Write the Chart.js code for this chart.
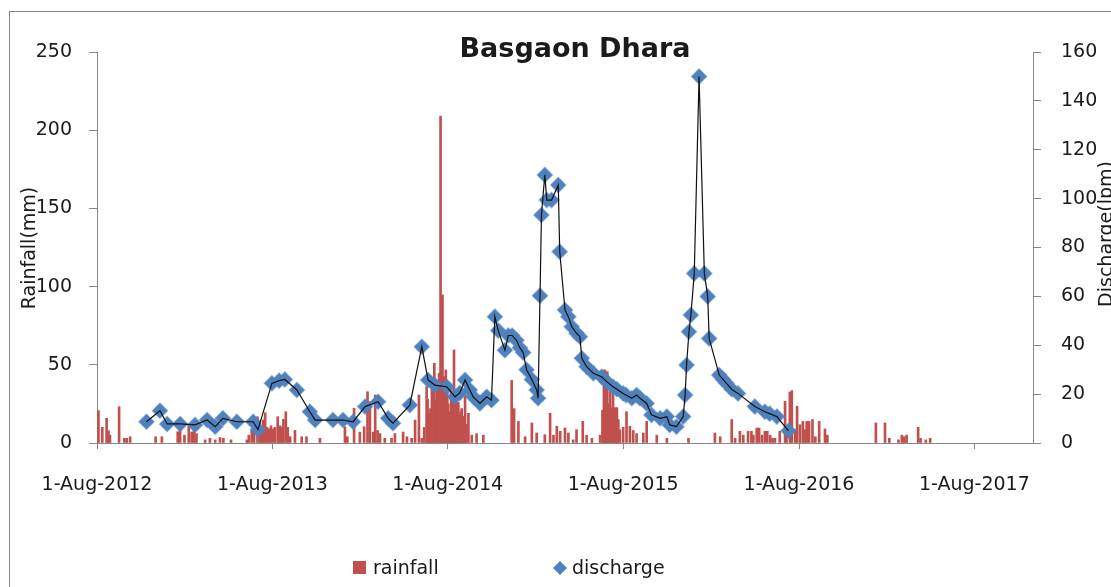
<!DOCTYPE html>
<html>
<head>
<meta charset="utf-8">
<script src="https://cdn.jsdelivr.net/npm/chart.js@4.4.1/dist/chart.umd.min.js"></script>
<style>
  html, body { margin: 0; padding: 0; background: #fff; }
  #wrap { width: 1111px; height: 587px; position: relative; }
</style>
</head>
<body>
<div id="wrap"><canvas id="chartBasgaon" width="1111" height="587"></canvas></div>
<script>
// days counted from 1-Aug-2012
const xTickDays = [0, 365, 730, 1095, 1461, 1826];
const xTickLabels = ['1-Aug-2012', '1-Aug-2013', '1-Aug-2014', '1-Aug-2015', '1-Aug-2016', '1-Aug-2017'];

const rainDay = [3, 11, 20, 24, 27, 46, 57, 62, 69, 122, 135, 168, 173, 182, 191, 197, 202, 207, 225, 235,
  246, 256, 263, 279, 312, 316, 322, 327, 334, 339, 343, 346, 350, 354, 358, 362, 366, 370, 376, 379,
  381, 385, 388, 393, 397, 402, 412, 426, 436, 464, 516, 521, 535, 547, 556, 563, 568, 575, 579, 584,
  589, 599, 613, 620, 637, 645, 655, 662, 670, 676, 681, 686, 688, 691, 694, 697, 699, 702, 705, 707,
  710, 712, 715, 717, 719, 720, 722, 724, 726, 729, 731, 733, 735, 737, 740, 741, 743, 745, 747, 749,
  752, 754, 757, 759, 761, 764, 766, 769, 773, 780, 790, 804, 863, 868, 877, 891, 905, 915, 932, 943,
  950, 957, 964, 974, 981, 991, 998, 1011, 1019, 1030, 1047, 1052, 1055, 1057, 1059, 1062, 1064, 1068, 1070, 1072,
  1074, 1078, 1080, 1082, 1085, 1088, 1095, 1102, 1109, 1116, 1123, 1137, 1144, 1165, 1186, 1231, 1286, 1297, 1321, 1328,
  1338, 1345, 1355, 1362, 1366, 1373, 1378, 1384, 1390, 1395, 1401, 1406, 1411, 1421, 1432, 1435, 1442, 1446, 1453, 1457,
  1463, 1469, 1473, 1477, 1482, 1489, 1495, 1503, 1515, 1520, 1621, 1640, 1649, 1668, 1675, 1680, 1685, 1709, 1714, 1725, 1734];
const rainMm = [20.7, 10, 15.8, 7.9, 5, 23.2, 3, 3, 4, 4, 4, 7.2, 11.5, 5, 10.9, 7, 8.3, 6, 2, 3,
  2, 3.5, 3, 2, 2, 5, 8, 11.5, 16.8, 13.1, 8, 14.7, 19.4, 10, 9, 11, 9, 10, 16.8, 9,
  11, 10, 15.2, 20, 10, 4, 8, 4, 4, 3, 10.4, 4, 22.2, 7, 10.4, 32.8, 26.4, 7, 30.7, 8,
  6, 3, 3, 6, 7, 4, 3, 14.7, 30.7, 3, 10, 36, 28, 19, 22, 36, 25, 51, 27.5, 35,
  29.6, 44.6, 209, 40, 94.7, 35, 42.4, 30, 46.7, 32, 25, 16, 20, 35, 24, 28, 59.5, 22, 30.7, 25,
  26, 18, 20, 22, 17, 15, 30.7, 12, 19, 5, 6, 5, 40, 22, 13.8, 4, 12.8, 6.4, 5.3, 19,
  5, 10.7, 7.5, 9.6, 6.4, 2, 8.5, 13.8, 5, 3, 5, 21, 46.7, 46.7, 30, 45.6, 25, 33, 15, 22.6,
  37, 22.6, 12, 22.6, 15, 8.5, 10, 20, 10.7, 8, 6, 6.4, 13.8, 5, 3, 3, 6.4, 4, 15, 3,
  7.5, 5, 7.5, 7.5, 5, 9.6, 9.6, 5, 7.5, 7.5, 5, 3, 3, 7.5, 26.6, 6.4, 32.6, 33.5, 8.5, 23.5,
  11.7, 13.8, 8.5, 13.8, 13.8, 15, 4, 13.8, 9, 5, 12.8, 12.8, 3, 2, 5, 4, 5, 10, 3, 2, 3];

const dischargeDay = [103, 131, 146, 173, 204, 229, 246, 262, 291, 325, 335, 364, 379, 391, 416, 443, 454, 491, 512, 533,
  558, 585, 606, 616, 651, 676, 689, 703, 728, 745, 755, 766, 776, 783, 797, 811, 821, 828, 835, 849,
  856, 864, 873, 880, 887, 894, 905, 915, 918, 922, 925, 932, 936, 946, 960, 963, 974, 981, 988, 998,
  1005, 1009, 1019, 1033, 1050, 1061, 1074, 1082, 1095, 1101, 1113, 1123, 1130, 1144, 1154, 1172, 1186, 1192, 1206, 1220,
  1224, 1227, 1232, 1236, 1243, 1253, 1264, 1271, 1274, 1295, 1303, 1310, 1321, 1334, 1369, 1390, 1400, 1415, 1439];
const dischargeLpm = [8.7, 13.2, 7.8, 7.8, 7.4, 9.4, 6.7, 10.1, 8.7, 8.7, 5.5, 24.4, 25.5, 26, 21.7, 12.8, 9.4, 9.4, 9.4, 8.7,
  14.9, 16.9, 10.1, 8.1, 15.5, 39.4, 25.8, 23.7, 23, 18.9, 20.5, 25.8, 21.7, 18.9, 16.2, 18.9, 17.5, 51.7, 46, 38,
  44, 44, 42, 39, 37, 30, 26, 21.7, 18.3, 60.3, 93.3, 109.7, 99.4, 99.4, 105.6, 78.3, 54.4, 51.7, 47.6, 44.9,
  43.5, 34.7, 31.2, 28.5, 27.1, 25.1, 23, 22, 20.3, 19.6, 18.3, 19.6, 18.3, 16.2, 11.5, 10.1, 10.8, 7.4, 6.7, 10.8,
  19.6, 31.9, 45.5, 52.4, 69.4, 150, 69.4, 60, 42.8, 27.8, 26, 24.4, 22, 20.3, 14.9, 12.8, 12, 10.8, 5];

const RAIN_RED = '#C0504D';
const DISCHARGE_BLUE = '#4F81BD';
const AXIS_GREY = '#868686';
const TXT = '#1a1a1a';
const FONT = 'DejaVu Sans';

const rainPoints = rainDay.map((d, i) => ({ x: d, y: rainMm[i] }));
const dischargePoints = dischargeDay.map((d, i) => ({ x: d, y: dischargeLpm[i] }));

// title, axis titles, legend and the outer frame are drawn by hand (Excel look)
const decorations = {
  id: 'decorations',
  afterDraw(chart) {
    const ctx = chart.ctx;
    ctx.save();
    ctx.strokeStyle = AXIS_GREY;
    ctx.lineWidth = 1;
    ctx.strokeRect(9.5, 11.5, 1300, 700);

    ctx.fillStyle = TXT;
    ctx.font = 'bold 27px "' + FONT + '"';
    ctx.textAlign = 'center';
    ctx.textBaseline = 'alphabetic';
    ctx.fillText('Basgaon Dhara', 575, 57);

    ctx.font = '19px "' + FONT + '"';
    ctx.textBaseline = 'middle';
    ctx.save();
    ctx.translate(30, 248);
    ctx.rotate(-Math.PI / 2);
    ctx.fillText('Rainfall(mm)', 0, 0);
    ctx.restore();

    ctx.save();
    ctx.translate(1107, 234);
    ctx.rotate(-Math.PI / 2);
    ctx.fillText('Discharge(lpm)', 0, 0);
    ctx.restore();

    // legend
    ctx.fillStyle = RAIN_RED;
    ctx.fillRect(353, 561, 13, 13);
    ctx.fillStyle = DISCHARGE_BLUE;
    ctx.beginPath();
    ctx.moveTo(560, 561);
    ctx.lineTo(567, 568);
    ctx.lineTo(560, 575);
    ctx.lineTo(553, 568);
    ctx.closePath();
    ctx.fill();
    ctx.fillStyle = TXT;
    ctx.textAlign = 'left';
    ctx.fillText('rainfall', 373, 569);
    ctx.fillText('discharge', 572, 569);
    ctx.restore();
  }
};

new Chart(document.getElementById('chartBasgaon'), {
  type: 'bar',
  data: {
    datasets: [
      {
        type: 'line',
        label: 'discharge line',
        data: dischargePoints,
        yAxisID: 'y1',
        borderColor: '#111',
        borderWidth: 1.2,
        pointRadius: 0,
        tension: 0,
        order: 0
      },
      {
        type: 'line',
        label: 'discharge',
        data: dischargePoints,
        yAxisID: 'y1',
        showLine: false,
        pointStyle: 'rectRot',
        pointRadius: 7.5,
        pointBackgroundColor: DISCHARGE_BLUE,
        pointBorderColor: 'rgba(79,129,189,0.55)',
        pointBorderWidth: 1.5,
        order: 1
      },
      {
        type: 'bar',
        label: 'rainfall',
        data: rainPoints,
        yAxisID: 'y',
        backgroundColor: RAIN_RED,
        barThickness: 2,
        order: 2
      }
    ]
  },
  options: {
    responsive: false,
    animation: false,
    layout: { padding: { top: 52, left: 0, right: 0, bottom: 0 } },
    plugins: {
      legend: { display: false },
      title: { display: false },
      tooltip: { enabled: false }
    },
    scales: {
      x: {
        type: 'linear',
        min: 0,
        max: 1948,
        offset: false,
        grid: { drawOnChartArea: false, offset: false, tickLength: 6, color: AXIS_GREY },
        border: { color: AXIS_GREY },
        ticks: {
          autoSkip: false,
          maxRotation: 0,
          padding: 25,
          color: TXT,
          font: { family: FONT, size: 19 },
          callback: (v) => {
            const i = xTickDays.indexOf(v);
            return i >= 0 ? xTickLabels[i] : '';
          }
        },
        afterBuildTicks: (s) => { s.ticks = xTickDays.map(v => ({ value: v })); },
        afterFit: (s) => { s.height = 144; }
      },
      y: {
        position: 'left',
        min: 0,
        max: 250,
        grid: { drawOnChartArea: false, tickLength: 8, color: AXIS_GREY },
        border: { color: AXIS_GREY },
        ticks: { stepSize: 50, padding: 17, color: TXT, font: { family: FONT, size: 19 } },
        afterFit: (s) => { s.width = 97; }
      },
      y1: {
        position: 'right',
        min: 0,
        max: 160,
        grid: { drawOnChartArea: false, tickLength: 8, color: AXIS_GREY },
        border: { color: AXIS_GREY },
        ticks: { stepSize: 20, padding: 20, color: TXT, font: { family: FONT, size: 19 } },
        afterFit: (s) => { s.width = 78; }
      }
    }
  },
  plugins: [decorations]
});
</script>
</body>
</html>
